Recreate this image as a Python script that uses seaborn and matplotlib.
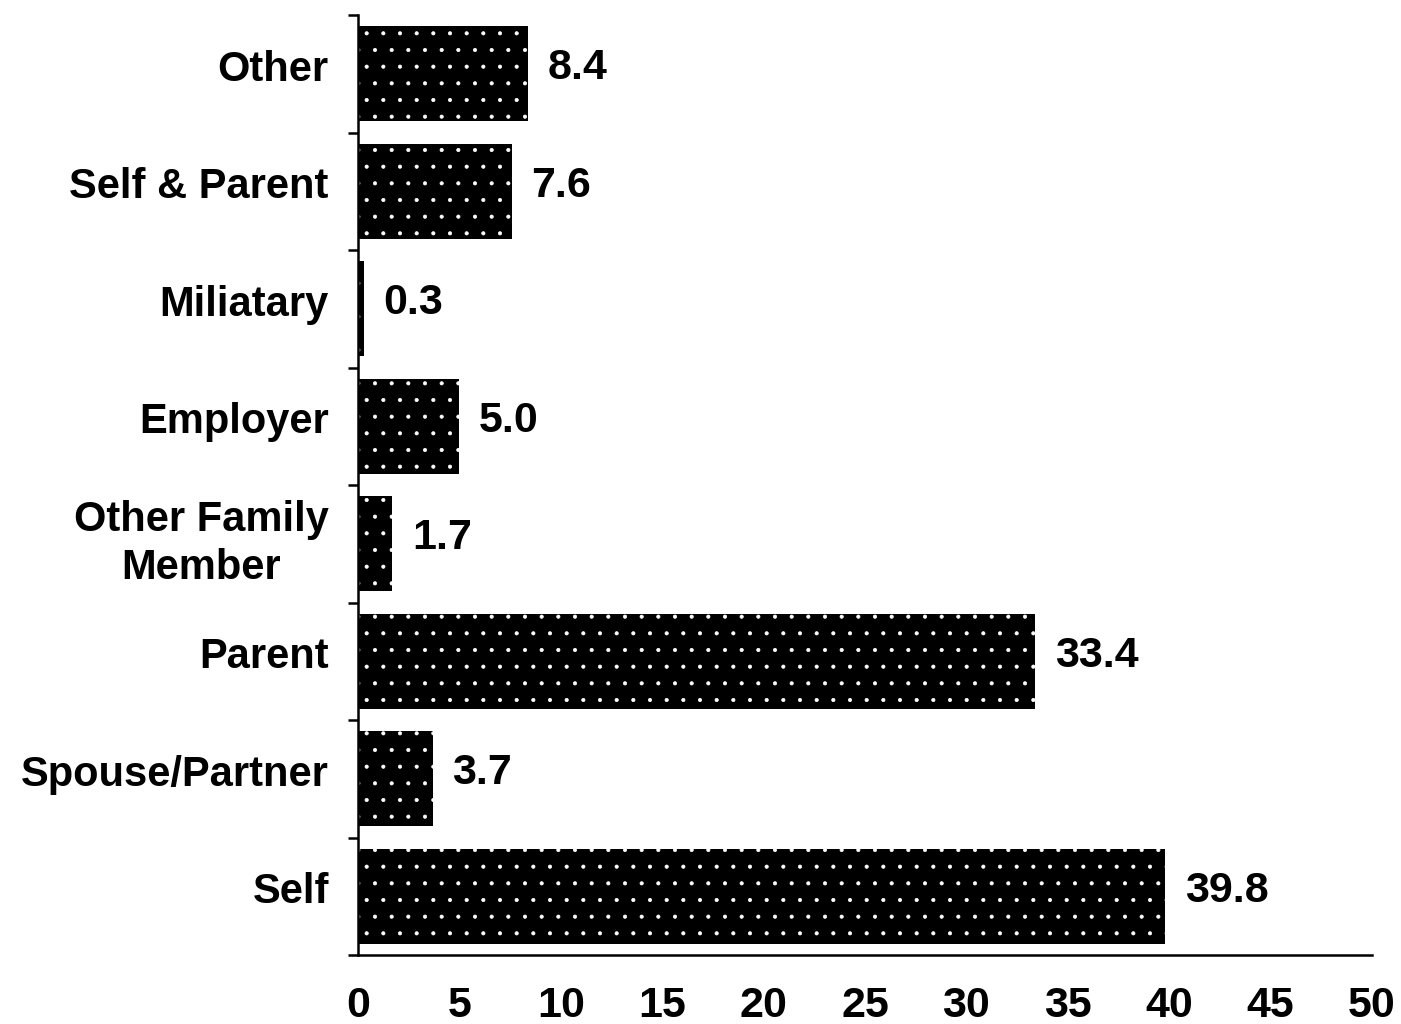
import matplotlib
matplotlib.use("Agg")
import matplotlib.pyplot as plt
import matplotlib.transforms as mtransforms
import seaborn as sns
import pandas as pd
import numpy as np

categories = ["Other", "Self & Parent", "Miliatary", "Employer",
              "Other Family\nMember", "Parent", "Spouse/Partner", "Self"]
values = [8.4, 7.6, 0.3, 5.0, 1.7, 33.4, 3.7, 39.8]
value_labels = ["8.4", "7.6", "0.3", "5.0", "1.7", "33.4", "3.7", "39.8"]
x_ticks = [0, 5, 10, 15, 20, 25, 30, 35, 40, 45, 50]

sns.set_theme(style="white")
plt.rcParams["font.family"] = ["Liberation Sans", "DejaVu Sans"]
plt.rcParams["font.weight"] = "bold"
plt.rcParams["text.color"] = "black"
plt.rcParams["xtick.color"] = "black"
plt.rcParams["ytick.color"] = "black"
plt.rcParams["hatch.color"] = "white"
plt.rcParams["hatch.linewidth"] = 0.5

df = pd.DataFrame({"cat": categories, "val": values})

fig = plt.figure(figsize=(14.01, 10.24), dpi=100)
ax = fig.add_axes([358/1401, 1-955/1024, (1372-358)/1401, (955-15)/1024])

sns.barplot(data=df, x="val", y="cat", orient="h", color="black",
            width=0.81, ax=ax, saturation=1)
for p in ax.patches:
    p.set_facecolor("black")
    p.set_edgecolor("white")
    p.set_linewidth(0)
    p.set_hatch(".")

ax.set_xlim(0, 50)
ax.set_ylim(len(categories) - 0.5, -0.5)
ax.set_xticks(x_ticks)
ax.set_xticklabels([str(t) for t in x_ticks], fontsize=31, fontweight="bold", color="black")
ax.tick_params(axis="x", direction="out", length=8, width=1.8, color="black", pad=14)

ax.set_yticks(range(len(categories)))
ax.set_yticklabels(categories, fontsize=30, fontweight="bold", multialignment="center",
                   color="black", linespacing=1.25)
ax.tick_params(axis="y", which="major", length=0, pad=21)
ax.set_yticks(np.arange(-0.5, len(categories) + 0.5, 1), minor=True)
ax.tick_params(axis="y", which="minor", direction="out", length=7, width=1.8, color="black", left=True)

shift = mtransforms.ScaledTranslation(0, 6/72, fig.dpi_scale_trans)
for lbl in ax.get_yticklabels():
    lbl.set_transform(lbl.get_transform() + shift)

for i, (v, lab) in enumerate(zip(values, value_labels)):
    ax.annotate(lab, (v, i), xytext=(14, 4), textcoords="offset points",
                va="center", ha="left", fontsize=31, fontweight="bold", color="black")

for s in ["top", "right"]:
    ax.spines[s].set_visible(False)
for s in ["left", "bottom"]:
    ax.spines[s].set_color("black")
    ax.spines[s].set_linewidth(1.8)

ax.set_xlabel("")
ax.set_ylabel("")
ax.grid(False)

fig.savefig("out.png", dpi=100, facecolor="white")
